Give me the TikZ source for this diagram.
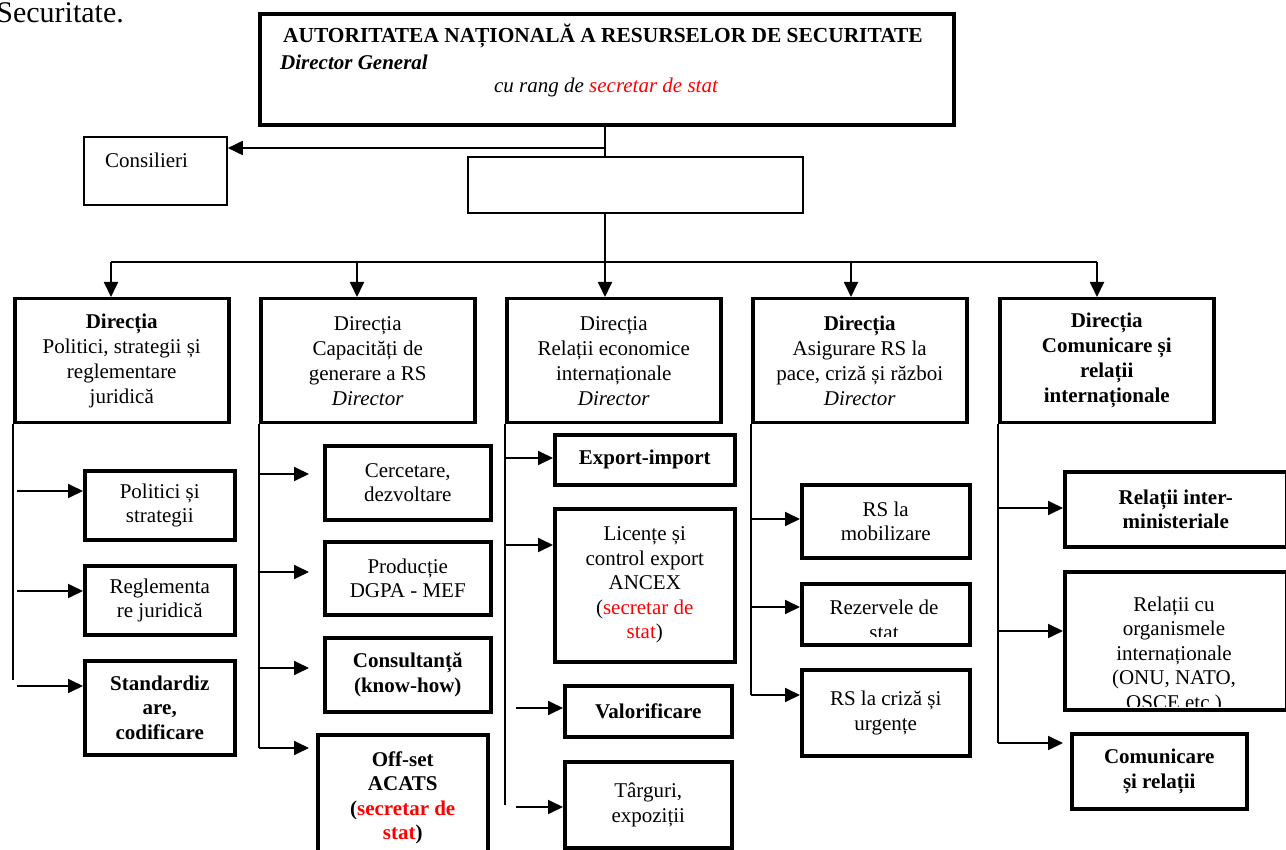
\documentclass[tikz,border=0pt]{standalone}
\usepackage{fontspec}
\setmainfont{Liberation Serif}
\usetikzlibrary{arrows.meta}
\begin{document}
\begin{tikzpicture}[x=1pt,y=-1pt,
  fs/.style={font=\fontsize{21}{24.5}\selectfont},
  tbox/.style={draw, line width=3.5pt, anchor=north west, align=center, inner sep=0pt, fs},
  bbox/.style={tbox, font=\fontsize{21}{24.5}\selectfont\bfseries},
  hbox/.style={tbox, font=\fontsize{21}{25}\selectfont},
  nbox/.style={draw, line width=1.8pt, anchor=north west, inner sep=0pt},
  ln/.style={line width=1.8pt},
  arr/.style={line width=1.8pt, -{Triangle[length=15pt,width=14pt]}},
  lbl/.style={inner sep=0pt, align=center, fs}
]
\useasboundingbox (0,0) rectangle (1286,850);
\clip (0,0) rectangle (1286,850);

\node[lbl, anchor=base east, font=\fontsize{30}{34}\selectfont] (sec) at (124,23) {Securitate.};

% top
\node[nbox, line width=4pt, minimum width=694, minimum height=111] (top) at (258,12) {};
\node[lbl, anchor=west, font=\fontsize{21.4}{24}\selectfont\bfseries] (title) at (283,36) {AUTORITATEA NAȚIONALĂ A RESURSELOR DE SECURITATE};
\node[lbl, anchor=west, font=\fontsize{21}{24}\selectfont\bfseries\itshape] (dg) at (280,62) {Director General};
\node[lbl, font=\fontsize{21}{24}\selectfont\itshape] (rang) at (606,87) {cu rang de \textcolor{red}{secretar de stat}};

\node[nbox, minimum width=143, minimum height=68] (cons) at (83,136) {};
\node[lbl, anchor=west] (consT) at (105,160) {Consilieri};
\node[nbox, minimum width=335, minimum height=56] (blank) at (467,156) {};

\coordinate (j1) at (605,148);
\coordinate (bus) at (605,262);
\coordinate (busL) at (111,262);
\coordinate (b2) at (357,262);
\coordinate (b4) at (851,262);
\coordinate (busR) at (1097,262);
\draw[ln] (top.south -| j1) -- (blank.north -| j1);
\draw[arr] (j1) -- (cons.east |- j1);
\draw[ln] (blank.south -| bus) -- (bus);
\draw[ln] (busL) -- (busR);

% headers
\node[hbox, minimum width=214, minimum height=124] (h1) at (13,297) {\textbf{Direcția}\\Politici, strategii și\\reglementare\\juridică};
\node[hbox, minimum width=214, minimum height=124] (h2) at (259,297) {Direcția\\Capacități de\\generare a RS\\\textit{Director}};
\node[hbox, minimum width=214, minimum height=124] (h3) at (505,297) {Direcția\\Relații economice\\internaționale\\\textit{Director}};
\node[hbox, minimum width=214, minimum height=124] (h4) at (751,297) {\textbf{Direcția}\\Asigurare RS la\\pace, criză și război\\\textit{Director}};
\node[hbox, minimum width=214, minimum height=124, font=\fontsize{21}{25}\selectfont\bfseries] (h5) at (998,297) {Direcția\\Comunicare și\\relații\\internaționale};

\draw[arr] (busL) -- (busL |- h1.north);
\draw[arr] (b2) -- (b2 |- h2.north);
\draw[arr] (bus) -- (bus |- h3.north);
\draw[arr] (b4) -- (b4 |- h4.north);
\draw[arr] (busR) -- (busR |- h5.north);

% column 1
\coordinate (c1e) at (13,680);
\draw[ln] (h1.south west) -- (c1e);
\node[tbox, minimum width=150, minimum height=69] (p1) at (83,469) {Politici și\\strategii};
\node[tbox, minimum width=150, minimum height=69] (p2) at (83,564) {Reglementa\\re juridică};
\node[bbox, minimum width=150, minimum height=94] (p3) at (83,659) {Standardiz\\are,\\codificare};
\coordinate (a11) at (17,491);
\coordinate (a12) at (17,591);
\coordinate (a13) at (17,686);
\draw[arr] (a11) -- (a11 -| p1.west);
\draw[arr] (a12) -- (a12 -| p2.west);
\draw[arr] (a13) -- (a13 -| p3.west);

% column 2
\coordinate (c2e) at (259,748);
\draw[ln] (h2.south west) -- (c2e);
\node[tbox, minimum width=166, minimum height=74] (q1) at (323,444) {Cercetare,\\dezvoltare};
\node[tbox, minimum width=166, minimum height=73] (q2) at (323,540) {Producție\\DGPA - MEF};
\node[bbox, minimum width=166, minimum height=74] (q3) at (323,636) {Consultanță\\(know-how)};
\node[bbox, minimum width=170, minimum height=126] (q4) at (316,733) {Off-set\\ACATS\\(\textcolor{red}{secretar de}\\\textcolor{red}{stat})};
\coordinate (a21) at (259,474);
\coordinate (a22) at (259,572);
\coordinate (a23) at (259,668);
\draw[arr, shorten >=14pt] (a21) -- (a21 -| q1.west);
\draw[arr, shorten >=14pt] (a22) -- (a22 -| q2.west);
\draw[arr, shorten >=14pt] (a23) -- (a23 -| q3.west);
\draw[arr, shorten >=7pt] (c2e) -- (c2e -| q4.west);

% column 3
\coordinate (c3e) at (505,805);
\draw[ln] (h3.south west) -- (c3e);
\node[bbox, minimum width=180, minimum height=50] (r1) at (553,433) {Export-import};
\node[tbox, minimum width=180, minimum height=153] (r2) at (553,507) {Licențe și\\control export\\ANCEX\\(\textcolor{red}{secretar de}\\\textcolor{red}{stat})};
\node[bbox, minimum width=167, minimum height=51] (r3) at (563,684) {Valorificare};
\node[tbox, minimum width=167, minimum height=86] (r4) at (563,760) {Târguri,\\expoziții};
\coordinate (a31) at (505,458);
\coordinate (a32) at (505,545);
\coordinate (a33) at (516,708);
\coordinate (a34) at (516,807);
\draw[arr] (a31) -- (a31 -| r1.west);
\draw[arr] (a32) -- (a32 -| r2.west);
\draw[arr] (a33) -- (a33 -| r3.west);
\draw[arr] (a34) -- (a34 -| r4.west);

% column 4
\coordinate (c4e) at (751,695);
\draw[ln] (h4.south west) -- (c4e);
\node[tbox, minimum width=168, minimum height=73] (s1) at (800,483) {RS la\\mobilizare};
\node[tbox, minimum width=168, minimum height=61] (s2) at (800,582) {};
\begin{scope}
\clip (800,582) rectangle (968,636);
\node[lbl] (s2t) at (884,620) {Rezervele de\\stat};
\end{scope}
\node[tbox, minimum width=168, minimum height=86] (s3) at (800,668) {RS la criză și\\urgențe};
\coordinate (a41) at (751,519);
\coordinate (a42) at (751,607);
\draw[arr] (a41) -- (a41 -| s1.west);
\draw[arr] (a42) -- (a42 -| s2.west);
\draw[arr] (c4e) -- (c4e -| s3.west);

% column 5
\coordinate (c5e) at (998,743);
\draw[ln] (h5.south west) -- (c5e);
\node[bbox, minimum width=222, minimum height=75] (t1) at (1063,470) {Relații inter-\\ministeriale};
\node[tbox, minimum width=222, minimum height=138] (t2) at (1063,570) {};
\begin{scope}
\clip (1063,570) rectangle (1285,706);
\node[lbl] (t2t) at (1174,655) {Relații cu\\organismele\\internaționale\\(ONU, NATO,\\OSCE etc.)};
\end{scope}
\node[bbox, minimum width=175, minimum height=75] (t3) at (1070,732) {Comunicare\\și relații};
\coordinate (a51) at (998,508);
\coordinate (a52) at (998,631);
\draw[arr] (a51) -- (a51 -| t1.west);
\draw[arr] (a52) -- (a52 -| t2.west);
\draw[arr, shorten >=7pt] (c5e) -- (c5e -| t3.west);
\end{tikzpicture}
\end{document}
